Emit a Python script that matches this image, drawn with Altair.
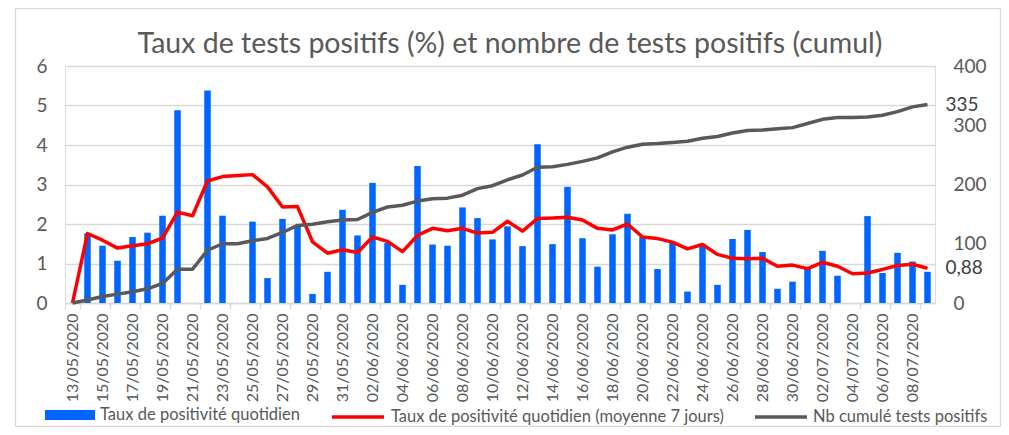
import altair as alt
import pandas as pd

dates = list(pd.date_range("2020-05-13", "2020-07-09").strftime("%d/%m/%Y"))

taux = [0.0, 1.76, 1.45, 1.07, 1.67, 1.78, 2.21, 4.88, 0.0, 5.38,
        2.21, 0.0, 2.06, 0.63, 2.13, 1.94, 0.23, 0.79, 2.36, 1.71,
        3.04, 1.52, 0.46, 3.47, 1.48, 1.45, 2.42, 2.15, 1.61, 1.94,
        1.44, 4.02, 1.49, 2.94, 1.64, 0.92, 1.74, 2.26, 1.67, 0.86,
        1.52, 0.29, 1.50, 0.46, 1.62, 1.85, 1.29, 0.36, 0.54, 0.89,
        1.32, 0.69, 0.0, 2.20, 0.76, 1.27, 1.05, 0.79]

moyenne = [0.0, 1.76, 1.59, 1.39, 1.45, 1.50, 1.64, 2.30, 2.21, 3.09,
           3.20, 3.23, 3.25, 2.94, 2.43, 2.44, 1.55, 1.26, 1.35, 1.28,
           1.67, 1.56, 1.30, 1.71, 1.89, 1.83, 1.89, 1.77, 1.79, 2.07,
           1.82, 2.14, 2.15, 2.17, 2.10, 1.89, 1.85, 2.00, 1.67, 1.63,
           1.54, 1.37, 1.48, 1.23, 1.13, 1.12, 1.13, 0.93, 0.96, 0.87,
           1.03, 0.93, 0.74, 0.76, 0.85, 0.95, 0.98, 0.88]

cumul = [0, 5, 11, 15, 19, 24, 33, 57, 57, 89,
         100, 100, 105, 109, 119, 131, 133, 137, 140, 141,
         153, 162, 165, 172, 176, 177, 182, 193, 198, 208,
         216, 229, 230, 234, 239, 245, 255, 263, 268, 269,
         271, 273, 278, 281, 287, 291, 292, 294, 296, 303,
         310, 313, 313, 314, 317, 323, 331, 335]

end_labels_cumul = ["335"]
end_labels_moy = ["0,88"]

series_names = ["Taux de positivité quotidien",
                "Taux de positivité quotidien (moyenne 7 jours)",
                "Nb cumulé tests positifs"]
series_colors = ["#0066ff", "#ff0000", "#595959"]

df = pd.DataFrame({"date": dates, "taux": taux, "moy": moyenne, "cumul": cumul})
last = df.tail(1).copy()
last["lab_cumul"] = end_labels_cumul
last["lab_moy"] = end_labels_moy

FONT = "Lato"
TXT = "#595959"
GRID = "#d9d9d9"

xenc = alt.X("date:N", sort=None, title=None,
             scale=alt.Scale(paddingInner=0, paddingOuter=0),
             axis=alt.Axis(values=dates[::2], labelAngle=-90, labelFontSize=16,
                           labelColor=TXT, labelFont=FONT, tickBand="extent",
                           tickSize=6, tickColor=GRID, tickWidth=1.3,
                           domainColor=GRID, domainWidth=1.3, labelPadding=4,
                           grid=False))

left_scale = alt.Scale(domain=[0, 6], nice=False, zero=True)
right_scale = alt.Scale(domain=[0, 400], nice=False, zero=True)

def leg(name, color, x, y, symtype, size, sw, offset):
    return alt.Color("serie:N", scale=alt.Scale(domain=[name], range=[color]),
                     legend=alt.Legend(orient="none", legendX=x, legendY=y, title=None,
                                       direction="horizontal", padding=0,
                                       symbolType=symtype, symbolSize=size,
                                       symbolStrokeWidth=sw, labelFontSize=16.5,
                                       labelColor=TXT, labelFont=FONT,
                                       labelOffset=offset, labelLimit=500))

bars = alt.Chart(df).transform_calculate(serie=f"'{series_names[0]}'").mark_bar(size=6.5).encode(
    x=xenc,
    y=alt.Y("taux:Q", scale=left_scale, title=None,
            axis=alt.Axis(values=[0, 1, 2, 3, 4, 5, 6], grid=True, gridColor=GRID,
                          gridWidth=1.3, domain=False, ticks=False, labelFontSize=19,
                          labelColor=TXT, labelFont=FONT, labelPadding=18, orient="left")),
    color=leg(series_names[0], series_colors[0], -20, 324,
              "M-1,-0.2H1V0.2H-1Z", 2500, 0, 5),
)

red = alt.Chart(df).transform_calculate(serie=f"'{series_names[1]}'").mark_line(
    strokeWidth=3.5, strokeJoin="round").encode(
    x=xenc,
    y=alt.Y("moy:Q", scale=left_scale, axis=None),
    color=leg(series_names[1], series_colors[1], 265, 323, "stroke", 2704, 3.5, 5),
)

gray = alt.Chart(df).transform_calculate(serie=f"'{series_names[2]}'").mark_line(
    strokeWidth=3.5, strokeJoin="round").encode(
    x=xenc,
    y=alt.Y("cumul:Q", scale=right_scale, title=None,
            axis=alt.Axis(values=[0, 100, 200, 300, 400], orient="right", grid=False,
                          domain=False, ticks=False, labelFontSize=19, labelColor=TXT,
                          labelFont=FONT, labelPadding=18)),
    color=leg(series_names[2], series_colors[2], 688, 323, "stroke", 2704, 3.5, 4),
)

lab_c = alt.Chart(last).mark_text(align="left", baseline="middle", dx=18,
                                  fontSize=19, font=FONT, color="#404040").encode(
    x=xenc, y=alt.Y("cumul:Q", scale=right_scale, axis=None), text="lab_cumul:N")

lab_m = alt.Chart(last).mark_text(align="left", baseline="middle", dx=18,
                                  fontSize=19, font=FONT, color="#404040").encode(
    x=xenc, y=alt.Y("moy:Q", scale=left_scale, axis=None), text="lab_moy:N")

frame = alt.Chart(pd.DataFrame({"k": [0]})).mark_rect(
    fill=None, stroke=GRID, strokeWidth=1.3).encode(
    x=alt.value(-49.5), x2=alt.value(935.5), y=alt.value(-57.5), y2=alt.value(360.5))

chart = alt.layer(frame, bars, red, gray, lab_c, lab_m).resolve_scale(
    y="independent", color="independent"
).properties(
    width=870, height=237,
    title=alt.TitleParams("Taux de tests positifs (%) et nombre de tests positifs (cumul)",
                          anchor="middle", frame="group", fontSize=28.5, font=FONT,
                          fontWeight="normal", color=TXT, offset=-51, dx=10),
    autosize=alt.AutoSizeParams(type="none"),
    padding={"left": 57, "top": 58, "right": 66, "bottom": 124},
).configure_view(stroke=None).configure(background="white")

chart.save("out.html", embed_options={"renderer": "svg", "actions": False})
